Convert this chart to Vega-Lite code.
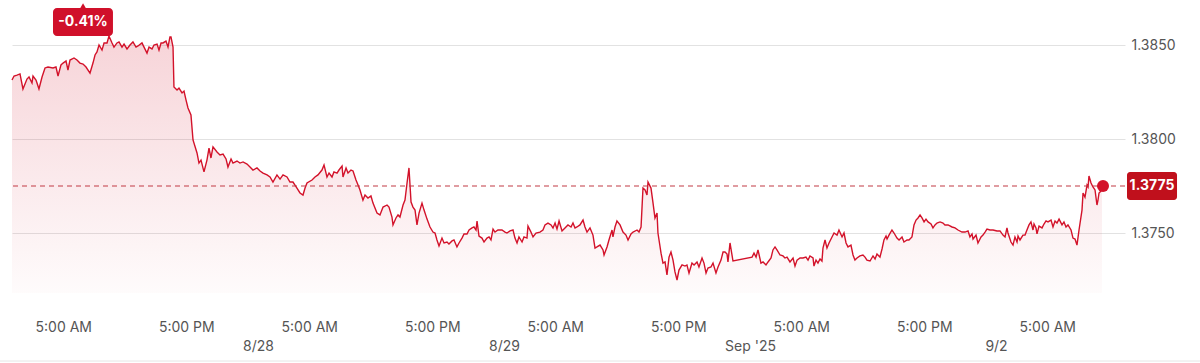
{
  "$schema": "https://vega.github.io/schema/vega-lite/v6.json",
  "width": 1113,
  "height": 293,
  "autosize": {"type": "none"},
  "padding": {"left": 12, "top": 0, "right": 75, "bottom": 70},
  "background": "white",
  "config": {
    "view": {"stroke": null},
    "font": "Inter",
    "axisX": {"title": null, "grid": false, "ticks": false, "domain": false, "labelFontSize": 14, "labelColor": "#555555", "labelPadding": 27, "labelLineHeight": 19, "labelOverlap": false, "labelFlush": false, "labelBound": false},
    "axisY": {"title": null, "ticks": false, "domain": false, "grid": true, "gridColor": "#e2e2e2", "gridWidth": 1, "labelFontSize": 14, "labelColor": "#555555", "labelPadding": 6}
  },
  "datasets": {
    "fx": [
      {"h":0,"v":1.38314},{"h":0.20,"v":1.38335},{"h":0.49,"v":1.38340},{"h":0.78,"v":1.38346},{"h":1.07,"v":1.38266},{"h":1.46,"v":1.38319},{"h":1.66,"v":1.38330},{"h":1.95,"v":1.38298},{"h":2.05,"v":1.38335},{"h":2.34,"v":1.38314},{"h":2.44,"v":1.38298},{"h":2.63,"v":1.38266},{"h":2.93,"v":1.38330},{"h":3.22,"v":1.38378},{"h":3.51,"v":1.38383},{"h":4.00,"v":1.38378},{"h":4.29,"v":1.38383},{"h":4.49,"v":1.38335},{"h":4.78,"v":1.38394},{"h":4.98,"v":1.38404},{"h":5.27,"v":1.38415},{"h":5.46,"v":1.38367},{"h":5.66,"v":1.38420},{"h":6.05,"v":1.38431},{"h":6.34,"v":1.38420},{"h":6.63,"v":1.38404},{"h":6.93,"v":1.38399},{"h":7.22,"v":1.38383},{"h":7.61,"v":1.38351},{"h":7.90,"v":1.38404},{"h":8.10,"v":1.38447},{"h":8.29,"v":1.38463},{"h":8.49,"v":1.38500},{"h":8.78,"v":1.38473},{"h":8.98,"v":1.38511},{"h":9.27,"v":1.38511},{"h":9.46,"v":1.38548},{"h":9.76,"v":1.38511},{"h":9.95,"v":1.38489},{"h":10.24,"v":1.38511},{"h":10.44,"v":1.38516},{"h":10.73,"v":1.38489},{"h":10.93,"v":1.38505},{"h":11.22,"v":1.38479},{"h":11.51,"v":1.38500},{"h":11.80,"v":1.38516},{"h":12.10,"v":1.38489},{"h":12.29,"v":1.38495},{"h":12.68,"v":1.38511},{"h":12.88,"v":1.38489},{"h":13.17,"v":1.38457},{"h":13.37,"v":1.38489},{"h":13.66,"v":1.38479},{"h":13.85,"v":1.38500},{"h":14.15,"v":1.38505},{"h":14.34,"v":1.38473},{"h":14.54,"v":1.38511},{"h":14.73,"v":1.38511},{"h":15.02,"v":1.38521},{"h":15.22,"v":1.38489},{"h":15.41,"v":1.38543},{"h":15.51,"v":1.38543},{"h":15.71,"v":1.38489},{"h":15.80,"v":1.38277},{"h":16.10,"v":1.38261},{"h":16.29,"v":1.38271},{"h":16.59,"v":1.38245},{"h":16.78,"v":1.38255},{"h":16.98,"v":1.38207},{"h":17.17,"v":1.38165},{"h":17.46,"v":1.38128},{"h":17.66,"v":1.37995},{"h":18.05,"v":1.37926},{"h":18.24,"v":1.37872},{"h":18.44,"v":1.37888},{"h":18.73,"v":1.37825},{"h":19.02,"v":1.37888},{"h":19.22,"v":1.37952},{"h":19.41,"v":1.37899},{"h":19.61,"v":1.37958},{"h":20.00,"v":1.37931},{"h":20.29,"v":1.37915},{"h":20.59,"v":1.37920},{"h":20.88,"v":1.37894},{"h":21.07,"v":1.37851},{"h":21.37,"v":1.37894},{"h":21.56,"v":1.37872},{"h":21.95,"v":1.37883},{"h":22.24,"v":1.37872},{"h":22.54,"v":1.37878},{"h":22.93,"v":1.37867},{"h":23.22,"v":1.37851},{"h":23.51,"v":1.37835},{"h":23.90,"v":1.37846},{"h":24.20,"v":1.37830},{"h":24.49,"v":1.37819},{"h":24.88,"v":1.37809},{"h":25.17,"v":1.37798},{"h":25.46,"v":1.37771},{"h":25.85,"v":1.37809},{"h":26.15,"v":1.37787},{"h":26.44,"v":1.37809},{"h":26.83,"v":1.37798},{"h":27.12,"v":1.37771},{"h":27.41,"v":1.37771},{"h":27.80,"v":1.37739},{"h":28.10,"v":1.37713},{"h":28.39,"v":1.37702},{"h":28.59,"v":1.37739},{"h":28.78,"v":1.37766},{"h":29.27,"v":1.37782},{"h":29.56,"v":1.37798},{"h":29.85,"v":1.37809},{"h":30.24,"v":1.37835},{"h":30.44,"v":1.37862},{"h":30.73,"v":1.37798},{"h":30.93,"v":1.37819},{"h":31.22,"v":1.37798},{"h":31.41,"v":1.37825},{"h":31.71,"v":1.37819},{"h":31.90,"v":1.37835},{"h":32.20,"v":1.37856},{"h":32.29,"v":1.37798},{"h":32.59,"v":1.37846},{"h":32.78,"v":1.37819},{"h":33.07,"v":1.37835},{"h":33.27,"v":1.37830},{"h":33.56,"v":1.37782},{"h":33.76,"v":1.37755},{"h":33.95,"v":1.37729},{"h":34.24,"v":1.37675},{"h":34.44,"v":1.37702},{"h":34.73,"v":1.37686},{"h":35.02,"v":1.37697},{"h":35.22,"v":1.37659},{"h":35.61,"v":1.37606},{"h":35.90,"v":1.37596},{"h":36.20,"v":1.37638},{"h":36.59,"v":1.37649},{"h":36.78,"v":1.37638},{"h":37.07,"v":1.37585},{"h":37.17,"v":1.37543},{"h":37.46,"v":1.37580},{"h":37.66,"v":1.37596},{"h":37.85,"v":1.37585},{"h":38.15,"v":1.37649},{"h":38.34,"v":1.37675},{"h":38.54,"v":1.37766},{"h":38.73,"v":1.37846},{"h":38.93,"v":1.37665},{"h":39.12,"v":1.37638},{"h":39.32,"v":1.37622},{"h":39.51,"v":1.37543},{"h":39.71,"v":1.37606},{"h":40.00,"v":1.37659},{"h":40.20,"v":1.37622},{"h":40.49,"v":1.37574},{"h":40.78,"v":1.37532},{"h":41.07,"v":1.37505},{"h":41.27,"v":1.37500},{"h":41.46,"v":1.37463},{"h":41.66,"v":1.37431},{"h":41.95,"v":1.37473},{"h":42.15,"v":1.37447},{"h":42.44,"v":1.37452},{"h":42.63,"v":1.37442},{"h":42.93,"v":1.37458},{"h":43.12,"v":1.37463},{"h":43.41,"v":1.37426},{"h":43.61,"v":1.37447},{"h":43.90,"v":1.37473},{"h":44.10,"v":1.37495},{"h":44.39,"v":1.37495},{"h":44.59,"v":1.37516},{"h":44.88,"v":1.37527},{"h":45.07,"v":1.37532},{"h":45.27,"v":1.37516},{"h":45.37,"v":1.37564},{"h":45.56,"v":1.37484},{"h":45.85,"v":1.37473},{"h":46.05,"v":1.37452},{"h":46.34,"v":1.37473},{"h":46.54,"v":1.37479},{"h":46.73,"v":1.37463},{"h":46.93,"v":1.37521},{"h":47.12,"v":1.37505},{"h":47.41,"v":1.37516},{"h":47.80,"v":1.37516},{"h":48.10,"v":1.37505},{"h":48.29,"v":1.37500},{"h":48.59,"v":1.37511},{"h":48.88,"v":1.37516},{"h":49.07,"v":1.37473},{"h":49.27,"v":1.37447},{"h":49.46,"v":1.37479},{"h":49.76,"v":1.37452},{"h":49.95,"v":1.37479},{"h":50.24,"v":1.37473},{"h":50.34,"v":1.37537},{"h":50.63,"v":1.37505},{"h":50.83,"v":1.37479},{"h":51.12,"v":1.37500},{"h":51.51,"v":1.37505},{"h":51.80,"v":1.37516},{"h":52.00,"v":1.37543},{"h":52.29,"v":1.37553},{"h":52.59,"v":1.37543},{"h":52.78,"v":1.37527},{"h":52.98,"v":1.37553},{"h":53.17,"v":1.37521},{"h":53.37,"v":1.37564},{"h":53.66,"v":1.37511},{"h":53.95,"v":1.37527},{"h":54.24,"v":1.37543},{"h":54.54,"v":1.37532},{"h":54.73,"v":1.37553},{"h":54.93,"v":1.37527},{"h":55.12,"v":1.37532},{"h":55.41,"v":1.37543},{"h":55.71,"v":1.37569},{"h":55.90,"v":1.37532},{"h":56.10,"v":1.37505},{"h":56.39,"v":1.37527},{"h":56.68,"v":1.37489},{"h":56.88,"v":1.37420},{"h":57.07,"v":1.37426},{"h":57.37,"v":1.37436},{"h":57.66,"v":1.37410},{"h":57.76,"v":1.37383},{"h":58.05,"v":1.37426},{"h":58.24,"v":1.37463},{"h":58.54,"v":1.37516},{"h":58.63,"v":1.37479},{"h":58.83,"v":1.37532},{"h":59.02,"v":1.37564},{"h":59.32,"v":1.37543},{"h":59.61,"v":1.37505},{"h":59.90,"v":1.37489},{"h":60.10,"v":1.37463},{"h":60.39,"v":1.37495},{"h":60.59,"v":1.37505},{"h":60.98,"v":1.37516},{"h":61.17,"v":1.37505},{"h":61.37,"v":1.37532},{"h":61.56,"v":1.37739},{"h":61.76,"v":1.37729},{"h":61.95,"v":1.37702},{"h":62.05,"v":1.37771},{"h":62.34,"v":1.37739},{"h":62.54,"v":1.37659},{"h":62.73,"v":1.37580},{"h":62.93,"v":1.37606},{"h":63.02,"v":1.37500},{"h":63.32,"v":1.37393},{"h":63.51,"v":1.37340},{"h":63.71,"v":1.37346},{"h":63.90,"v":1.37277},{"h":64.10,"v":1.37372},{"h":64.29,"v":1.37399},{"h":64.49,"v":1.37356},{"h":64.68,"v":1.37293},{"h":64.88,"v":1.37250},{"h":65.07,"v":1.37303},{"h":65.37,"v":1.37330},{"h":65.66,"v":1.37324},{"h":65.85,"v":1.37330},{"h":66.05,"v":1.37287},{"h":66.34,"v":1.37340},{"h":66.54,"v":1.37330},{"h":66.83,"v":1.37346},{"h":67.02,"v":1.37319},{"h":67.32,"v":1.37367},{"h":67.51,"v":1.37340},{"h":67.71,"v":1.37287},{"h":67.90,"v":1.37314},{"h":68.19,"v":1.37319},{"h":68.39,"v":1.37340},{"h":68.68,"v":1.37287},{"h":68.88,"v":1.37319},{"h":69.17,"v":1.37356},{"h":69.37,"v":1.37399},{"h":69.56,"v":1.37399},{"h":69.76,"v":1.37388},{"h":69.85,"v":1.37346},{"h":70.05,"v":1.37447},{"h":70.34,"v":1.37351},{"h":72.20,"v":1.37372},{"h":72.39,"v":1.37393},{"h":72.59,"v":1.37372},{"h":72.78,"v":1.37410},{"h":73.07,"v":1.37340},{"h":73.27,"v":1.37346},{"h":73.56,"v":1.37330},{"h":73.76,"v":1.37346},{"h":74.05,"v":1.37367},{"h":74.24,"v":1.37410},{"h":74.44,"v":1.37426},{"h":74.63,"v":1.37410},{"h":74.93,"v":1.37383},{"h":75.22,"v":1.37378},{"h":75.41,"v":1.37367},{"h":75.61,"v":1.37372},{"h":75.90,"v":1.37346},{"h":76.20,"v":1.37367},{"h":76.39,"v":1.37324},{"h":76.59,"v":1.37356},{"h":76.88,"v":1.37367},{"h":77.17,"v":1.37367},{"h":77.46,"v":1.37372},{"h":77.66,"v":1.37356},{"h":77.85,"v":1.37378},{"h":78.15,"v":1.37367},{"h":78.24,"v":1.37324},{"h":78.44,"v":1.37356},{"h":78.63,"v":1.37340},{"h":78.83,"v":1.37362},{"h":79.02,"v":1.37351},{"h":79.12,"v":1.37420},{"h":79.32,"v":1.37463},{"h":79.51,"v":1.37420},{"h":79.71,"v":1.37447},{"h":80.00,"v":1.37479},{"h":80.20,"v":1.37500},{"h":80.49,"v":1.37489},{"h":80.68,"v":1.37516},{"h":80.98,"v":1.37479},{"h":81.17,"v":1.37500},{"h":81.37,"v":1.37447},{"h":81.56,"v":1.37426},{"h":81.85,"v":1.37436},{"h":82.05,"v":1.37383},{"h":82.24,"v":1.37356},{"h":82.44,"v":1.37367},{"h":82.73,"v":1.37378},{"h":83.02,"v":1.37383},{"h":83.22,"v":1.37372},{"h":83.41,"v":1.37356},{"h":83.71,"v":1.37351},{"h":84.00,"v":1.37378},{"h":84.20,"v":1.37362},{"h":84.39,"v":1.37388},{"h":84.68,"v":1.37372},{"h":84.88,"v":1.37415},{"h":85.07,"v":1.37463},{"h":85.27,"v":1.37484},{"h":85.37,"v":1.37468},{"h":85.56,"v":1.37489},{"h":85.85,"v":1.37516},{"h":86.05,"v":1.37500},{"h":86.34,"v":1.37473},{"h":86.54,"v":1.37463},{"h":86.83,"v":1.37479},{"h":87.02,"v":1.37452},{"h":87.32,"v":1.37463},{"h":87.51,"v":1.37463},{"h":87.80,"v":1.37479},{"h":88.00,"v":1.37543},{"h":88.20,"v":1.37569},{"h":88.39,"v":1.37580},{"h":88.59,"v":1.37596},{"h":88.78,"v":1.37580},{"h":88.98,"v":1.37559},{"h":89.17,"v":1.37574},{"h":89.37,"v":1.37559},{"h":89.66,"v":1.37548},{"h":89.85,"v":1.37527},{"h":90.05,"v":1.37543},{"h":90.24,"v":1.37553},{"h":90.54,"v":1.37559},{"h":90.83,"v":1.37553},{"h":91.02,"v":1.37543},{"h":91.32,"v":1.37543},{"h":91.71,"v":1.37532},{"h":92.00,"v":1.37527},{"h":92.29,"v":1.37516},{"h":92.68,"v":1.37505},{"h":92.98,"v":1.37505},{"h":93.27,"v":1.37511},{"h":93.46,"v":1.37479},{"h":93.66,"v":1.37495},{"h":93.76,"v":1.37468},{"h":94.05,"v":1.37489},{"h":94.24,"v":1.37447},{"h":94.54,"v":1.37479},{"h":94.73,"v":1.37489},{"h":94.93,"v":1.37505},{"h":95.12,"v":1.37521},{"h":95.41,"v":1.37516},{"h":95.71,"v":1.37516},{"h":96.10,"v":1.37511},{"h":96.39,"v":1.37511},{"h":96.68,"v":1.37489},{"h":96.88,"v":1.37479},{"h":97.07,"v":1.37527},{"h":97.17,"v":1.37500},{"h":97.46,"v":1.37452},{"h":97.66,"v":1.37436},{"h":97.85,"v":1.37479},{"h":98.05,"v":1.37452},{"h":98.15,"v":1.37484},{"h":98.34,"v":1.37463},{"h":98.63,"v":1.37489},{"h":98.83,"v":1.37489},{"h":99.02,"v":1.37516},{"h":99.22,"v":1.37543},{"h":99.41,"v":1.37559},{"h":99.61,"v":1.37516},{"h":99.71,"v":1.37548},{"h":99.90,"v":1.37527},{"h":100.00,"v":1.37495},{"h":100.20,"v":1.37537},{"h":100.49,"v":1.37527},{"h":100.68,"v":1.37548},{"h":100.88,"v":1.37564},{"h":101.07,"v":1.37559},{"h":101.37,"v":1.37569},{"h":101.56,"v":1.37532},{"h":101.76,"v":1.37564},{"h":101.95,"v":1.37553},{"h":102.15,"v":1.37574},{"h":102.44,"v":1.37543},{"h":102.63,"v":1.37559},{"h":102.83,"v":1.37532},{"h":103.02,"v":1.37543},{"h":103.32,"v":1.37516},{"h":103.51,"v":1.37473},{"h":103.71,"v":1.37468},{"h":103.90,"v":1.37436},{"h":104.10,"v":1.37516},{"h":104.39,"v":1.37622},{"h":104.49,"v":1.37713},{"h":104.68,"v":1.37691},{"h":104.88,"v":1.37755},{"h":104.98,"v":1.37745},{"h":105.07,"v":1.37803},{"h":105.27,"v":1.37766},{"h":105.46,"v":1.37745},{"h":105.66,"v":1.37729},{"h":105.85,"v":1.37649},{"h":105.95,"v":1.37675},{"h":106.05,"v":1.37713},{"h":106.24,"v":1.37723},{"h":106.34,"v":1.37745}
    ]
  },
  "layer": [
    {
      "data": {"name": "fx"},
      "mark": {
        "type": "area",
        "interpolate": "linear",
        "color": {
          "gradient": "linear",
          "x1": 1, "x2": 1, "y1": 0, "y2": 1,
          "stops": [
            {"offset": 0, "color": "rgba(210,16,40,0.18)"},
            {"offset": 1, "color": "rgba(210,16,40,0.015)"}
          ]
        }
      },
      "encoding": {
        "x": {
          "field": "h", "type": "quantitative",
          "scale": {"domain": [0, 108.585], "nice": false, "zero": false},
          "axis": {
            "values": [5, 17, 24, 29, 41, 48, 53, 65, 72, 77, 89, 96, 101],
            "labelExpr": "datum.value % 24 == 5 ? '5:00 AM' : datum.value % 24 == 17 ? '5:00 PM' : ['', datum.value == 24 ? '8/28' : datum.value == 48 ? '8/29' : datum.value == 72 ? \"Sep '25\" : '9/2']"
          }
        },
        "y": {
          "field": "v", "type": "quantitative",
          "scale": {"domain": [1.371809, 1.387394], "nice": false, "zero": false},
          "axis": {"orient": "right", "values": [1.375, 1.38, 1.385], "format": ".4f"}
        },
        "y2": {"datum": 1.371809}
      }
    },
    {
      "data": {"name": "fx"},
      "mark": {"type": "line", "color": "#d3122a", "strokeWidth": 1.4},
      "encoding": {
        "x": {"field": "h", "type": "quantitative", "scale": {"domain": [0, 108.585], "nice": false, "zero": false}},
        "y": {"field": "v", "type": "quantitative", "scale": {"domain": [1.371809, 1.387394], "nice": false, "zero": false}}
      }
    },
    {
      "data": {"values": [{"ref": 1.3775}]},
      "mark": {"type": "rule", "color": "#c23a45", "strokeWidth": 1.2, "strokeDash": [5, 4]},
      "encoding": {
        "y": {"field": "ref", "type": "quantitative", "scale": {"domain": [1.371809, 1.387394], "nice": false, "zero": false}}
      }
    },
    {
      "data": {"values": [{"h": 106.44, "v": 1.3775}]},
      "mark": {"type": "point", "shape": "circle", "filled": true, "size": 144, "color": "#d3122a", "opacity": 1},
      "encoding": {
        "x": {"field": "h", "type": "quantitative", "scale": {"domain": [0, 108.585], "nice": false, "zero": false}},
        "y": {"field": "v", "type": "quantitative", "scale": {"domain": [1.371809, 1.387394], "nice": false, "zero": false}}
      }
    },
    {
      "data": {"values": [{"label": "1.3775"}]},
      "mark": {"type": "rect", "color": "#c0101c", "cornerRadius": 3, "clip": false},
      "encoding": {
        "x": {"datum": 108.78, "type": "quantitative", "scale": {"domain": [0, 108.585], "nice": false, "zero": false}},
        "x2": {"datum": 113.66},
        "y": {"datum": 1.378245, "type": "quantitative", "scale": {"domain": [1.371809, 1.387394], "nice": false, "zero": false}},
        "y2": {"datum": 1.376755}
      }
    },
    {
      "data": {"values": [{"label": "1.3775"}]},
      "mark": {"type": "text", "color": "white", "fontWeight": "bold", "fontSize": 14, "align": "center", "baseline": "middle", "clip": false},
      "encoding": {
        "x": {"datum": 111.22, "type": "quantitative", "scale": {"domain": [0, 108.585], "nice": false, "zero": false}},
        "y": {"datum": 1.3775, "type": "quantitative", "scale": {"domain": [1.371809, 1.387394], "nice": false, "zero": false}},
        "text": {"field": "label"}
      }
    },
    {
      "data": {"values": [{"label": "-0.41%"}]},
      "mark": {"type": "rect", "color": "#d0102a", "cornerRadius": 4},
      "encoding": {
        "x": {"datum": 4.0, "type": "quantitative", "scale": {"domain": [0, 108.585], "nice": false, "zero": false}},
        "x2": {"datum": 9.85},
        "y": {"datum": 1.38697, "type": "quantitative", "scale": {"domain": [1.371809, 1.387394], "nice": false, "zero": false}},
        "y2": {"datum": 1.38548}
      }
    },
    {
      "data": {"values": [{"label": "-0.41%"}]},
      "mark": {"type": "point", "shape": "triangle-up", "filled": true, "size": 40, "color": "#d0102a", "opacity": 1},
      "encoding": {
        "x": {"datum": 6.93, "type": "quantitative", "scale": {"domain": [0, 108.585], "nice": false, "zero": false}},
        "y": {"datum": 1.38708, "type": "quantitative", "scale": {"domain": [1.371809, 1.387394], "nice": false, "zero": false}}
      }
    },
    {
      "data": {"values": [{"label": "-0.41%"}]},
      "mark": {"type": "text", "color": "white", "fontWeight": "bold", "fontSize": 14, "align": "center", "baseline": "middle"},
      "encoding": {
        "x": {"datum": 6.93, "type": "quantitative", "scale": {"domain": [0, 108.585], "nice": false, "zero": false}},
        "y": {"datum": 1.38622, "type": "quantitative", "scale": {"domain": [1.371809, 1.387394], "nice": false, "zero": false}},
        "text": {"field": "label"}
      }
    },
    {
      "data": {"values": [{"label": "border"}]},
      "mark": {"type": "rule", "color": "#e6e6e6", "strokeWidth": 1, "clip": false},
      "encoding": {
        "x": {"datum": -1.171, "type": "quantitative", "scale": {"domain": [0, 108.585], "nice": false, "zero": false}},
        "x2": {"datum": 115.9},
        "y": {"datum": 1.368192, "type": "quantitative", "scale": {"domain": [1.371809, 1.387394], "nice": false, "zero": false}}
      }
    }
  ]
}
